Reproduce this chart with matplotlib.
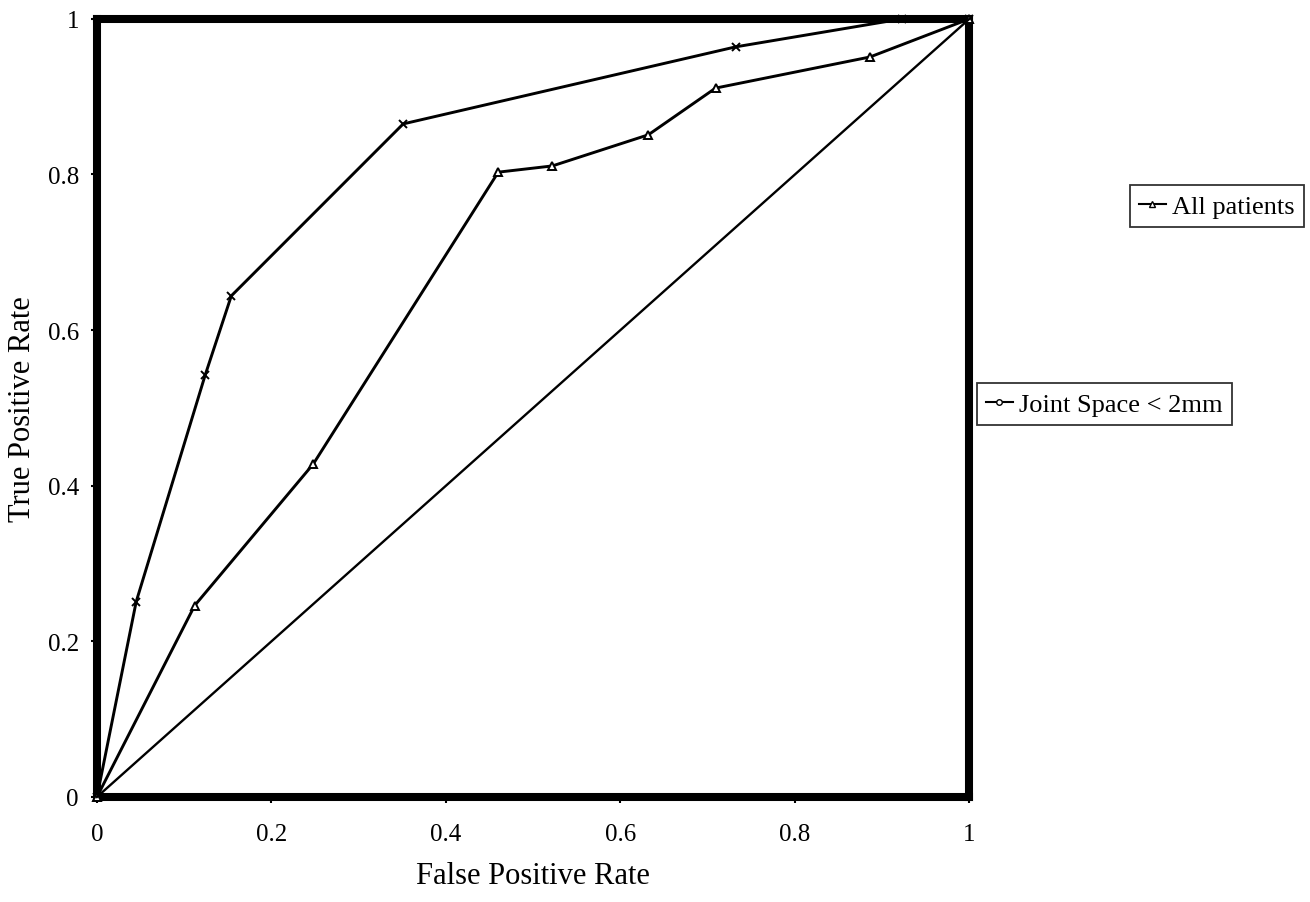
import matplotlib.pyplot as plt
from matplotlib.lines import Line2D

# ROC points
fpr_joint = [0, 0.045, 0.124, 0.154, 0.351, 0.732, 0.923, 1.0]
tpr_joint = [0, 0.251, 0.542, 0.644, 0.865, 0.964, 1.0, 1.0]

fpr_all = [0, 0.112, 0.248, 0.46, 0.522, 0.632, 0.709, 0.886, 1.0]
tpr_all = [0, 0.246, 0.428, 0.803, 0.811, 0.851, 0.911, 0.951, 1.0]

chance = [0, 1]

ticks = [0, 0.2, 0.4, 0.6, 0.8, 1.0]
tick_labels = ["0", "0.2", "0.4", "0.6", "0.8", "1"]

plt.rcParams['font.family'] = ['Liberation Serif', 'DejaVu Serif']

fig = plt.figure(figsize=(13.1, 9.03), dpi=100)
ax = fig.add_axes([0.074, 0.1163, 0.666, 0.8617])

ax.plot(fpr_joint, tpr_joint, color='black', lw=2.1, marker='x', ms=6, mew=1.4,
        clip_on=False, zorder=3)
ax.plot(fpr_all, tpr_all, color='black', lw=2.1, marker='^', ms=6, mew=1.4,
        mfc='white', clip_on=False, zorder=3)
ax.plot(chance, chance, color='black', lw=1.7, clip_on=False, zorder=3)

ax.set_xlim(0, 1)
ax.set_ylim(0, 1)
ax.set_xticks(ticks)
ax.set_xticklabels(tick_labels)
ax.set_yticks(ticks)
ax.set_yticklabels(tick_labels)
ax.tick_params(axis='x', direction='out', length=4, width=1.5, pad=15, labelsize=18)
ax.tick_params(axis='y', direction='out', length=4, width=1.5, pad=9, labelsize=18)

for s in ax.spines.values():
    s.set_linewidth(5.8)
    s.set_color('black')

ax.set_xlabel("False Positive Rate", fontsize=22, labelpad=11)
ax.set_ylabel("True Positive Rate", fontsize=22, labelpad=8)

# two separate legend boxes, as in the original
h_all = Line2D([], [], color='black', lw=1.5, marker='^', ms=5, mfc='white')
h_joint = Line2D([], [], color='black', lw=1.5, marker='o', ms=4, mfc='white')

leg1 = fig.legend([h_all], ["All patients"], loc='center right',
                  bbox_to_anchor=(1304 / 1310, 1 - 207 / 903), fontsize=19,
                  frameon=True, fancybox=False, edgecolor='black',
                  handlelength=1.0, handletextpad=0.25, borderpad=0.35,
                  borderaxespad=0)
leg1.get_frame().set_linewidth(1.3)

leg2 = fig.legend([h_joint], ["Joint Space < 2mm"], loc='center left',
                  bbox_to_anchor=(977 / 1310, 1 - 405 / 903), fontsize=19,
                  frameon=True, fancybox=False, edgecolor='black',
                  handlelength=1.0, handletextpad=0.25, borderpad=0.35,
                  borderaxespad=0)
leg2.get_frame().set_linewidth(1.3)

fig.savefig("out.png", dpi=100, facecolor='white')
